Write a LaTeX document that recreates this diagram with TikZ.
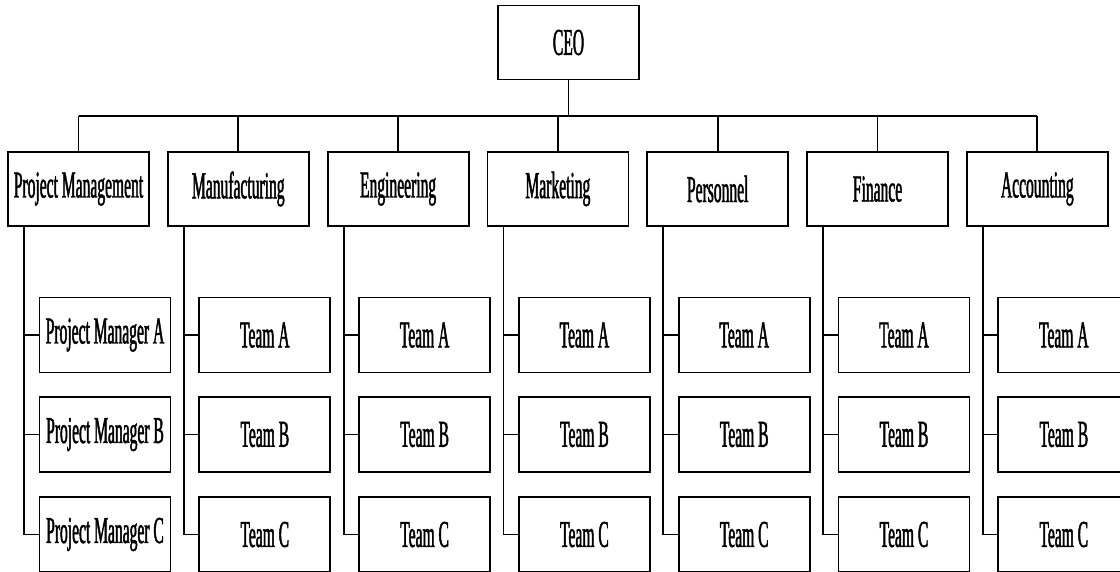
\documentclass[tikz,border=0pt]{standalone}
\usepackage{fontspec}
\newfontfamily\orgfont[FakeStretch=0.41,FakeBold=1.2]{Liberation Serif}
\begin{document}
\begin{tikzpicture}[x=1pt,y=-1pt,
  box/.style={draw, line width=1.8pt, minimum width=141pt, minimum height=74pt, inner sep=0pt,
    font=\orgfont\fontsize{38}{40}\selectfont},
  sub/.style={box, minimum width=131pt, minimum height=75pt},
  conn/.style={line width=1.8pt}]
\clip (0,0) rectangle (1120,571);
\fill[white] (0,0) rectangle (1120,571);
\node[box] (ceo) at (568.5,42.5) {CEO};
\coordinate (bus) at (568.5,116);
\draw[conn] (ceo.south) -- (bus);
\foreach \n/\t/\p [count=\i from 0] in {pm/Project Management/Project Manager,
    mf/Manufacturing/Team, en/Engineering/Team, mk/Marketing/Team,
    pe/Personnel/Team, fi/Finance/Team, ac/Accounting/Team}{
  \node[box] (\n) at ({78.5+159.8*\i},189) {\t};
  \node[sub] (\n-a) at ({105+159.8*\i},335) {\p\ A};
  \node[sub] (\n-b) at ({105+159.8*\i},434.5) {\p\ B};
  \node[sub] (\n-c) at ({105+159.8*\i},534.5) {\p\ C};
  \draw[conn] (\n.north |- bus) -- (\n.north);
  \coordinate (\n-v) at ([xshift=17pt]\n.south west);
  \draw[conn] (\n-v) |- (\n-c.west);
  \draw[conn] (\n-v |- \n-a.west) -- (\n-a.west);
  \draw[conn] (\n-v |- \n-b.west) -- (\n-b.west);
}
\draw[conn] (pm.north |- bus) -- (ac.north |- bus);
\end{tikzpicture}
\end{document}
